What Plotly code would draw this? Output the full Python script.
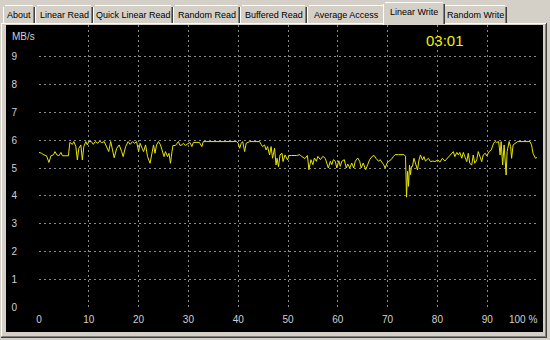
import plotly.graph_objects as go

# ---- data ----
pos_pct = [0.0, 0.5, 1.0, 1.5, 2.0, 2.4, 2.9, 3.2, 3.6, 4.0, 4.4, 4.7, 5.4, 5.9, 6.2, 6.7, 7.0, 7.4, 7.7, 8.0,
           8.4, 8.7, 9.0, 9.4, 9.7, 10.0, 10.5, 10.9, 11.3, 11.8, 12.2, 12.6, 13.1, 13.5, 14.0, 14.4, 14.8, 15.1,
           15.6, 16.1, 16.6, 16.9, 17.4, 17.9, 18.3, 18.8, 19.2, 19.6, 20.0, 20.3, 20.7, 21.0, 21.4, 21.8, 22.3,
           22.7, 23.0, 23.3, 23.6, 24.0, 24.4,
           24.7, 25.1, 25.4, 25.8, 26.1, 26.4, 26.7, 26.9, 27.4, 27.7, 28.0, 28.3, 28.7, 29.0, 29.4, 29.7, 30.0,
           30.3, 30.7, 31.0, 31.7, 32.2, 32.7, 33.0, 33.7, 35.0, 37.0, 39.7, 40.0, 40.3, 40.6, 40.9, 41.3, 41.6,
           42.3, 44.3, 44.6, 44.9, 45.3, 45.6, 45.9, 46.3, 46.6, 46.9, 47.3, 47.6, 47.8, 48.1, 48.4, 48.8, 49.0,
           49.4, 49.9,
           50.2, 50.7, 51.7, 52.4, 52.7, 53.4, 53.9, 54.2, 54.6, 55.0, 55.3, 55.7, 56.0, 56.5, 57.0, 57.5, 57.8,
           58.1, 58.5, 58.8, 59.1, 59.5, 59.8, 60.2, 60.5, 60.8, 61.3, 61.7, 62.0, 62.4, 62.8, 63.2, 63.5, 64.0,
           64.4, 64.7, 65.1, 65.6, 66.0, 66.4, 66.9, 67.3, 67.7, 68.2, 68.5, 68.8, 69.2, 69.5, 69.9, 70.2, 70.7,
           71.2, 71.5, 72.2, 73.3, 73.6, 73.8, 74.0, 74.2, 74.4, 74.6, 74.8, 75.0,
           75.3, 75.7, 76.0, 76.3, 76.6, 77.0, 77.3, 77.6, 78.2, 78.6, 79.1, 79.5, 80.1, 80.5, 81.0, 81.5, 81.9,
           82.3, 82.7, 83.2, 83.5, 83.9, 84.2, 84.5, 84.9, 85.2, 85.5, 85.9, 86.2, 86.5, 86.9, 87.2, 87.5, 87.9,
           88.2, 88.6, 88.9, 89.2, 89.6, 89.9, 90.4, 90.8, 91.3, 91.6, 91.9, 92.3, 92.6, 92.8, 93.1, 93.4, 93.8,
           94.0, 94.4, 94.7, 94.9, 95.2, 95.6, 96.1, 98.6, 98.9, 99.2, 99.7, 100.0]

write_mbps = [5.56, 5.53, 5.47, 5.44, 5.20, 5.44, 5.47, 5.59, 5.47, 5.44, 5.56, 5.44, 5.44, 5.44, 5.92, 5.85, 5.95,
              5.77, 5.29, 5.71, 5.83, 5.29, 5.77, 5.95, 5.83, 5.95, 5.95, 5.85, 5.95, 5.89, 5.97, 5.91, 5.95, 5.77,
              5.59, 5.95, 5.65, 5.37, 5.71, 5.83, 5.59, 5.41, 5.77, 5.95, 5.85, 5.95, 5.89, 5.95, 5.59, 5.89, 5.71,
              5.59, 5.83, 5.41, 5.17, 5.59, 5.83, 5.53, 5.83, 5.95, 5.83,
              5.65, 5.41, 5.59, 5.41, 5.53, 5.17, 5.59, 5.81, 5.81, 5.89, 5.95, 5.81, 5.83, 5.89, 5.81, 5.85, 5.89,
              5.92, 5.77, 5.92, 5.92, 5.92, 5.77, 5.95, 5.95, 5.95, 5.95, 5.95, 5.89, 5.71, 5.89, 5.95, 5.59, 5.89,
              5.95, 5.95, 5.85, 5.77, 5.83, 5.65, 5.77, 5.47, 5.77, 5.35, 5.71, 5.11, 5.35, 5.05, 5.47, 5.53, 5.23,
              5.47, 5.29,
              5.45, 5.45, 5.45, 5.48, 5.42, 5.34, 5.45, 4.94, 5.30, 5.12, 5.36, 5.24, 5.42, 5.30, 5.42, 5.34, 5.18,
              5.00, 5.24, 5.12, 5.30, 5.24, 5.00, 5.26, 5.06, 5.24, 5.30, 5.00, 5.14, 5.00, 5.18, 5.00, 5.24, 5.36,
              5.24, 5.00, 5.18, 4.94, 5.12, 5.30, 5.42, 5.45, 5.34, 5.24, 5.30, 5.24, 5.12, 5.00, 5.18, 5.24, 5.30,
              5.42, 5.48, 5.48, 5.48, 5.42, 3.95, 4.88, 4.34, 5.10, 4.76, 5.06, 5.06,
              5.35, 5.11, 4.93, 5.29, 5.47, 5.29, 5.41, 5.25, 5.35, 5.23, 5.25, 5.23, 5.29, 5.21, 5.35, 5.25, 5.33,
              5.44, 5.53, 5.59, 5.41, 5.56, 5.47, 5.56, 5.35, 5.56, 5.41, 5.23, 5.53, 5.17, 5.11, 5.47, 5.17, 5.29,
              5.59, 5.41, 5.23, 5.47, 5.53, 5.44, 5.59, 5.65, 5.89, 5.95, 5.92, 5.95, 5.47, 5.95, 5.11, 5.83, 4.75,
              5.59, 5.95, 5.77, 5.35, 5.83, 5.89, 5.95, 5.95, 5.83, 5.53, 5.35, 5.38]

y_ticks = list(range(0, 10))
x_ticks = list(range(0, 101, 10))
x_tick_text = [str(v) for v in range(0, 100, 10)] + [""]
x_end_label = "100 %"
y_unit = "MB/s"
elapsed = "03:01"
tab_labels = ["About", "Linear Read", "Quick Linear Read", "Random Read", "Buffered Read",
              "Average Access", "Linear Write", "Random Write"]
selected_tab = "Linear Write"

# ---- layout geometry (pixels) ----
W, H = 550, 340
L, R, T, B = 39, 537, 25, 307
PX_PER_MB = 27.8
tab_edges = [3, 35, 93, 173, 240, 307, 385, 443, 507]

GRAY = "#D4D0C8"
TICK = "#D0D0D0"
GRID = "#8A8A8A"


def fx(px):
    return (px - L) / (R - L)


def fy(py):
    return (B - py) / (B - T)


shapes = []


def rect(x0, y0, x1, y1, fill):
    shapes.append(dict(type="rect", xref="paper", yref="paper", x0=fx(x0), x1=fx(x1), y0=fy(y1), y1=fy(y0),
                       fillcolor=fill, line=dict(width=0), layer="below"))


def hline(x0, x1, y, color):
    shapes.append(dict(type="line", xref="paper", yref="paper", x0=fx(x0), x1=fx(x1), y0=fy(y), y1=fy(y),
                       line=dict(color=color, width=1), layer="below"))


def vline(x, y0, y1, color):
    shapes.append(dict(type="line", xref="paper", yref="paper", x0=fx(x), x1=fx(x), y0=fy(y0), y1=fy(y1),
                       line=dict(color=color, width=1), layer="below"))


# window frame / tab page
rect(0, 0, W, H, GRAY)
vline(1.5, 23, 338, "#FFFFFF")
vline(545.5, 23, 337, "#808080")
vline(546.5, 23, 338, "#404040")
hline(1.5, 546, 336.5, "#808080")
hline(1, 547, 337.5, "#404040")
# black measurement panel
rect(6, 25, 543, 332, "#000000")

annotations = []
sel_idx = tab_labels.index(selected_tab)
for i, lab in enumerate(tab_labels):
    x0, x1 = tab_edges[i], tab_edges[i + 1]
    if i == sel_idx:
        continue
    rect(x0, 5, x1, 23, GRAY)
    hline(x0 + 2, x1 - 2, 5.5, "#FFFFFF")
    vline(x0 + 0.5, 7, 23, "#FFFFFF")
    vline(x1 - 1.5, 7, 23, "#808080")
    vline(x1 - 0.5, 7, 23, "#404040")
    annotations.append(dict(text=lab, x=fx((x0 + x1) / 2), y=fy(14.5), xref="paper", yref="paper",
                            showarrow=False, xanchor="center", yanchor="middle",
                            font=dict(family="Liberation Sans, Arial", size=9, color="#000000")))
# top edge of the tab page
hline(1.5, 546, 23.5, "#FFFFFF")
# selected tab (raised)
sx0, sx1 = tab_edges[sel_idx] - 2, tab_edges[sel_idx + 1] + 2
rect(sx0, 2, sx1, 25, GRAY)
hline(sx0 + 2, sx1 - 2, 2.5, "#FFFFFF")
vline(sx0 + 0.5, 4, 25, "#FFFFFF")
vline(sx1 - 1.5, 4, 24, "#808080")
vline(sx1 - 0.5, 4, 24, "#404040")
annotations.append(dict(text=selected_tab, x=fx((sx0 + sx1) / 2), y=fy(12.5), xref="paper", yref="paper",
                        showarrow=False, xanchor="center", yanchor="middle",
                        font=dict(family="Liberation Sans, Arial", size=9, color="#000000")))

annotations.append(dict(text=y_unit, x=fx(10), y=fy(37), xref="paper", yref="paper", showarrow=False,
                        xanchor="left", yanchor="middle",
                        font=dict(family="Liberation Sans, Arial", size=10, color=TICK)))
annotations.append(dict(text=x_end_label, x=fx(539), y=fy(319.5), xref="paper", yref="paper", showarrow=False,
                        xanchor="right", yanchor="middle",
                        font=dict(family="Liberation Sans, Arial", size=10, color=TICK)))
annotations.append(dict(text=elapsed, x=fx(445), y=fy(41), xref="paper", yref="paper", showarrow=False,
                        xanchor="center", yanchor="middle",
                        font=dict(family="Liberation Sans, Arial", size=15, color="#F0F000")))

fig = go.Figure(go.Scatter(x=pos_pct, y=write_mbps, mode="lines",
                           line=dict(color="#E6E600", width=1), hoverinfo="skip"))

axis_font = dict(family="Liberation Sans, Arial", size=10, color=TICK)
fig.update_layout(
    width=W, height=H,
    margin=dict(l=L, r=W - R, t=T, b=H - B, pad=0),
    paper_bgcolor=GRAY, plot_bgcolor="#000000",
    showlegend=False,
    shapes=shapes, annotations=annotations,
    xaxis=dict(range=[0, 100], tickmode="array", tickvals=x_ticks, ticktext=x_tick_text,
               showgrid=True, gridcolor=GRID, gridwidth=1, griddash="2px,3px",
               zeroline=False, showline=False, ticks="", tickfont=axis_font, ticklabelstandoff=5,
               fixedrange=True),
    yaxis=dict(range=[0, (B - T) / PX_PER_MB], tickmode="array", tickvals=y_ticks,
               showgrid=True, gridcolor=GRID, gridwidth=1, griddash="2px,3px",
               zeroline=False, showline=False, ticks="", tickfont=axis_font, ticklabelstandoff=21,
               fixedrange=True),
)

fig.write_html("out.html", config={"displayModeBar": False})
